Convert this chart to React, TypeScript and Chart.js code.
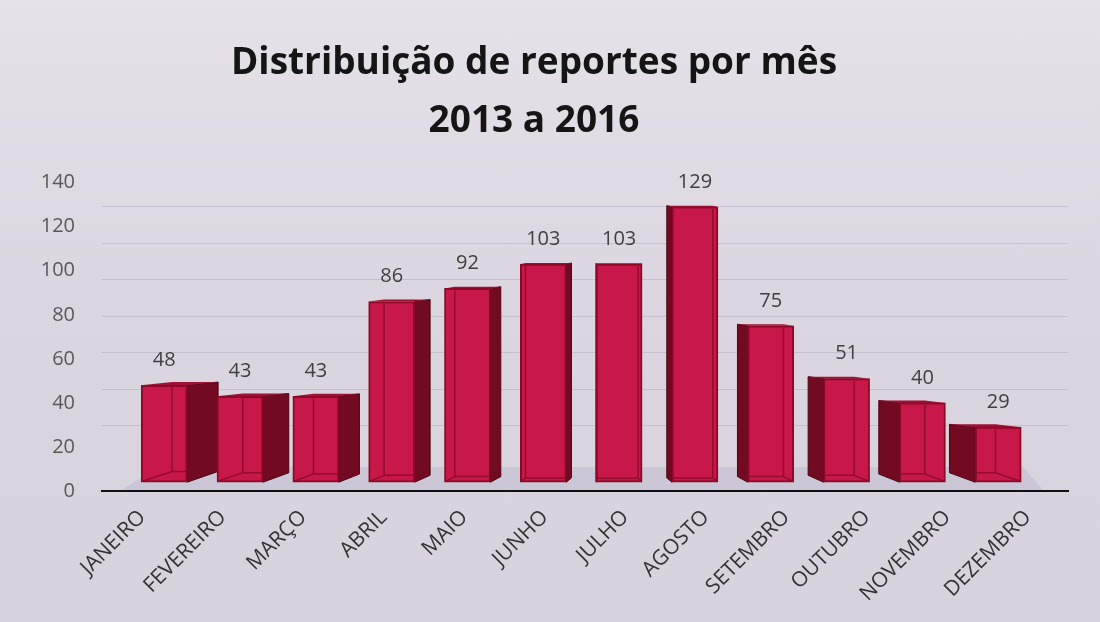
import React, { useEffect, useRef } from "react";
import { Chart, registerables } from "chart.js";

Chart.register(...registerables);

// ---- data ----
const months = [
  "JANEIRO", "FEVEREIRO", "MARÇO", "ABRIL", "MAIO", "JUNHO",
  "JULHO", "AGOSTO", "SETEMBRO", "OUTUBRO", "NOVEMBRO", "DEZEMBRO",
];
const reports = [48, 43, 43, 86, 92, 103, 103, 129, 75, 51, 40, 29];
const yTickValues = [0, 20, 40, 60, 80, 100, 120, 140];
const wallGridValues = [20, 40, 60, 80, 100, 120, 140];
const titleLines = ["Distribuição de reportes por mês", "2013 a 2016"];

// ---- style ----
const FONT = "'Open Sans', 'Noto Sans', sans-serif";
const FRONT = "#c8184a";
const SIDE = "#720a22";
const EDGE = "#8c0a28";
const BAR_AXIS_MIN = -0.82;
const BAR_AXIS_MAX = 11.92;
const WALL_MIN = -15.93;
const WALL_MAX = 153.2;

const box3dPlugin = {
  id: "box3d",
  beforeDatasetsDraw(chart: any) {
    const { ctx, chartArea } = chart;
    const xb = chart.scales.xb;
    const pivot = xb.getPixelForValue(months.length / 2);
    const meta = chart.getDatasetMeta(0);
    ctx.save();
    // floor
    const b = chartArea.bottom;
    ctx.fillStyle = "rgba(170,170,200,0.30)";
    ctx.beginPath();
    ctx.moveTo(chartArea.left + 20, b - 1);
    ctx.lineTo(chartArea.left + 55, b - 24);
    ctx.lineTo(chartArea.right - 45, b - 24);
    ctx.lineTo(chartArea.right - 25, b - 1);
    ctx.closePath();
    ctx.fill();
    // side faces
    meta.data.forEach((bar: any) => {
      const { x, y, base, width } = bar.getProps(["x", "y", "base", "width"], true);
      const L = x - width / 2;
      const R = x + width / 2;
      const s = Math.abs(x - pivot) * 0.068;
      const d = 3 + s * 0.25;
      ctx.fillStyle = SIDE;
      ctx.strokeStyle = "#4e0614";
      ctx.lineWidth = 1;
      ctx.beginPath();
      if (x < pivot) {
        ctx.moveTo(R, y);
        ctx.lineTo(R + s, y - d * 0.3);
        ctx.lineTo(R + s, base - d);
        ctx.lineTo(R, base);
      } else {
        ctx.moveTo(L, y);
        ctx.lineTo(L - s, y - d * 0.3);
        ctx.lineTo(L - s, base - d);
        ctx.lineTo(L, base);
      }
      ctx.closePath();
      ctx.fill();
      ctx.stroke();
      // thin top face
      ctx.fillStyle = "#9e1034";
      ctx.beginPath();
      if (x < pivot) {
        ctx.moveTo(L, y);
        ctx.lineTo(L + s, y - d * 0.3);
        ctx.lineTo(R + s, y - d * 0.3);
        ctx.lineTo(R, y);
      } else {
        ctx.moveTo(R, y);
        ctx.lineTo(R - s, y - d * 0.3);
        ctx.lineTo(L - s, y - d * 0.3);
        ctx.lineTo(L, y);
      }
      ctx.closePath();
      ctx.fill();
    });
    ctx.restore();
  },
  afterDatasetsDraw(chart: any) {
    const { ctx } = chart;
    const xb = chart.scales.xb;
    const pivot = xb.getPixelForValue(months.length / 2);
    const meta = chart.getDatasetMeta(0);
    ctx.save();
    meta.data.forEach((bar: any, i: number) => {
      const { x, y, base, width } = bar.getProps(["x", "y", "base", "width"], true);
      const L = x - width / 2;
      const R = x + width / 2;
      const s = Math.max(Math.abs(x - pivot) * 0.068, 4);
      const d = 3 + s * 0.25;
      // hidden back edges seen through the front face
      ctx.strokeStyle = "rgba(140,10,40,0.85)";
      ctx.lineWidth = 1.5;
      ctx.beginPath();
      if (x < pivot) {
        const bx = L + s;
        ctx.moveTo(bx, y + 2);
        ctx.lineTo(bx, base - d);
        ctx.lineTo(R - 1, base - d);
        ctx.moveTo(L + 1, base - 1);
        ctx.lineTo(bx, base - d);
      } else {
        const bx = R - s;
        ctx.moveTo(bx, y + 2);
        ctx.lineTo(bx, base - d);
        ctx.lineTo(L + 1, base - d);
        ctx.moveTo(R - 1, base - 1);
        ctx.lineTo(bx, base - d);
      }
      ctx.stroke();
      // value label
      ctx.fillStyle = "#404040";
      ctx.font = `20px ${FONT}`;
      ctx.textAlign = "center";
      ctx.textBaseline = "middle";
      ctx.fillText(String(reports[i]), x, y - 25);
    });
    ctx.restore();
  },
};

export default function App() {
  const canvasRef = useRef<HTMLCanvasElement | null>(null);

  useEffect(() => {
    const canvas = canvasRef.current;
    if (!canvas) return;
    const chart = new Chart(canvas, {
      type: "bar",
      data: {
        labels: months,
        datasets: [
          {
            label: "Reportes",
            data: reports.map((v, i) => ({ x: i, y: v })),
            xAxisID: "xb",
            yAxisID: "y",
            backgroundColor: FRONT,
            borderColor: EDGE,
            borderWidth: 2,
            borderSkipped: false,
            barThickness: 46,
            base: 4,
          } as any,
        ],
      },
      options: {
        responsive: false,
        animation: false,
        devicePixelRatio: 1,
        layout: { padding: { left: 0, right: 32, top: 0, bottom: 0 } },
        plugins: {
          legend: { display: false },
          tooltip: { enabled: false },
          title: {
            display: true,
            text: titleLines,
            color: "#151515",
            font: { family: FONT, size: 37, weight: "bold", lineHeight: 1.55 },
            padding: { top: 35, bottom: 33 },
          },
        },
        scales: {
          x: {
            type: "category",
            position: "bottom",
            offset: true,
            grid: { display: false, drawTicks: false },
            border: { display: true, color: "#111111", width: 2 },
            ticks: {
              color: "#333333",
              font: { family: FONT, size: 21 },
              minRotation: 45,
              maxRotation: 45,
              autoSkip: false,
              padding: 14,
            },
            afterFit: (scale: any) => {
              scale.height = 131;
            },
          },
          xb: {
            type: "linear",
            display: false,
            min: BAR_AXIS_MIN,
            max: BAR_AXIS_MAX,
            offset: false,
          },
          y: {
            type: "linear",
            position: "left",
            min: 0,
            max: 140,
            grid: { display: false, drawTicks: false },
            border: { display: false },
            ticks: {
              color: "#595959",
              font: { family: FONT, size: 20 },
              padding: 27,
              stepSize: 20,
            },
            afterBuildTicks: (scale: any) => {
              scale.ticks = yTickValues.map((v) => ({ value: v }));
            },
            afterFit: (scale: any) => {
              scale.width = 102;
            },
          },
          yg: {
            type: "linear",
            position: "right",
            min: WALL_MIN,
            max: WALL_MAX,
            grid: { display: true, drawTicks: false, color: "rgba(150,145,165,0.30)", lineWidth: 1 },
            border: { display: false },
            ticks: { display: false },
            afterBuildTicks: (scale: any) => {
              scale.ticks = wallGridValues.map((v) => ({ value: v }));
            },
            afterFit: (scale: any) => {
              scale.width = 0;
            },
          },
        },
      } as any,
      plugins: [box3dPlugin],
    });
    return () => chart.destroy();
  }, []);

  return (
    <div
      style={{
        position: "fixed",
        left: 0,
        top: 0,
        width: 1100,
        height: 622,
        background: "linear-gradient(180deg, #e6e2e9 0%, #dcd6e0 45%, #d8d2dc 100%)",
      }}
    >
      <canvas
        ref={canvasRef}
        width={1100}
        height={622}
        style={{ display: "block", width: 1100, height: 622 }}
      />
    </div>
  );
}
